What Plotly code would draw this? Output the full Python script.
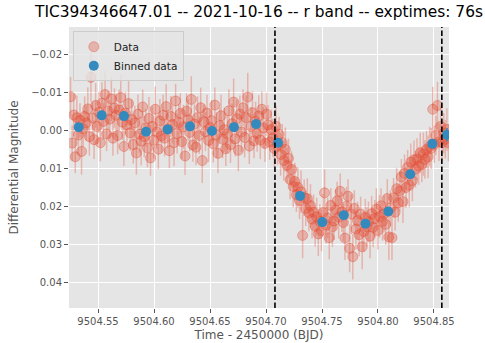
import plotly.graph_objects as go

# ---------------- data ----------------
t_base = 9504.5
t_offset = [
    0.0255, 0.0269, 0.0283, 0.0297, 0.0311, 0.0325, 0.0339, 0.0353, 0.0367, 0.0381,
    0.0395, 0.0409, 0.0423, 0.0437, 0.0451, 0.0465, 0.0479, 0.0493, 0.0507, 0.0521,
    0.0535, 0.0549, 0.0563, 0.0577, 0.0591, 0.0605, 0.0619, 0.0633, 0.0647, 0.0661,
    0.0675, 0.0689, 0.0703, 0.0717, 0.0731, 0.0745, 0.0759, 0.0773, 0.0787, 0.0801,
    0.0815, 0.0829, 0.0843, 0.0857, 0.0871, 0.0885, 0.0899, 0.0913, 0.0927, 0.0941,
    0.0955, 0.0969, 0.0983, 0.0997, 0.1011, 0.1025, 0.1039, 0.1053, 0.1067, 0.1081,
    0.1095, 0.1109, 0.1123, 0.1137, 0.1151, 0.1165, 0.1179, 0.1193, 0.1207, 0.1221,
    0.1235, 0.1249, 0.1263, 0.1277, 0.1291, 0.1305, 0.1319, 0.1333, 0.1347, 0.1361,
    0.1375, 0.1389, 0.1403, 0.1417, 0.1431, 0.1445, 0.1459, 0.1473, 0.1487, 0.1501,
    0.1515, 0.1529, 0.1543, 0.1557, 0.1571, 0.1585, 0.1599, 0.1613, 0.1627, 0.1641,
    0.1655, 0.1669, 0.1683, 0.1697, 0.1711, 0.1725, 0.1739, 0.1753, 0.1767, 0.1781,
    0.1795, 0.1809, 0.1823, 0.1837, 0.1851, 0.1865, 0.1879, 0.1893, 0.1907, 0.1921,
    0.1935, 0.1949, 0.1963, 0.1977, 0.1991, 0.2005, 0.2019, 0.2033, 0.2047, 0.2061,
    0.2075, 0.2089, 0.2103, 0.2117, 0.2131, 0.2145, 0.2159, 0.2173, 0.2187, 0.2201,
    0.2215, 0.2229, 0.2243, 0.2257, 0.2271, 0.2285, 0.2299, 0.2313, 0.2327, 0.2341,
    0.2355, 0.2369, 0.2383, 0.2397, 0.2411, 0.2425, 0.2439, 0.2453, 0.2467, 0.2481,
    0.2495, 0.2509, 0.2523, 0.2537, 0.2551, 0.2565, 0.2579, 0.2593, 0.2607, 0.2621,
    0.2635, 0.2649, 0.2663, 0.2677, 0.2691, 0.2705, 0.2719, 0.2733, 0.2747, 0.2761,
    0.2775, 0.2789, 0.2803, 0.2817, 0.2831, 0.2845, 0.2859, 0.2873, 0.2887, 0.2901,
    0.2915, 0.2929, 0.2943, 0.2957, 0.2971, 0.2985, 0.2999, 0.3013, 0.3027, 0.3041,
    0.3055, 0.3069, 0.3083, 0.3097, 0.3111, 0.3125, 0.3139, 0.3153, 0.3167, 0.3181,
    0.3195, 0.3209, 0.3223, 0.3237, 0.3251, 0.3265, 0.3279, 0.3293, 0.3307, 0.3321,
    0.3335, 0.3349, 0.3363, 0.3377, 0.3391, 0.3405, 0.3419, 0.3433, 0.3447, 0.3461,
    0.3475, 0.3489, 0.3503, 0.3517, 0.3531, 0.3545, 0.3559, 0.3573, 0.3587, 0.3601,
    0.3615, 0.3629,
]
mag = [
    -0.0090, 0.0032, -0.0042, 0.0068, -0.0035, 0.0011, -0.0028, 0.0054, -0.0006, -0.0038,
    -0.0021, -0.0058, 0.0015, -0.0141, -0.0034, 0.0023, -0.0067, -0.0012, -0.0049, 0.0031,
    -0.0073, -0.0025, -0.0096, 0.0008, -0.0052, -0.0031, -0.0084, 0.0019, -0.0060, -0.0041,
    0.0012, -0.0055, -0.0088, -0.0023, 0.0041, -0.0047, -0.0016, -0.0072, 0.0005, -0.0030,
    0.0036, -0.0021, 0.0058, -0.0044, 0.0009, 0.0027, -0.0063, 0.0015, -0.0008, 0.0045,
    -0.0033, 0.0071, -0.0012, 0.0024, -0.0057, 0.0003, 0.0048, -0.0026, 0.0013, -0.0041,
    0.0019, -0.0064, -0.0005, 0.0052, -0.0038, -0.0017, 0.0031, -0.0079, 0.0007, -0.0022,
    -0.0046, 0.0028, -0.0011, 0.0066, -0.0052, -0.0029, 0.0004, -0.0083, 0.0037, -0.0018,
    0.0043, -0.0035, 0.0012, -0.0061, 0.0078, -0.0024, 0.0002, -0.0047, 0.0025, -0.0009,
    -0.0027, 0.0034, -0.0068, 0.0011, 0.0059, -0.0014, -0.0040, 0.0022, -0.0003, 0.0047,
    0.0008, -0.0053, 0.0036, -0.0019, -0.0076, 0.0021, -0.0032, 0.0051, -0.0044, 0.0003,
    -0.0061, 0.0017, -0.0035, -0.0089, 0.0040, -0.0012, -0.0048, 0.0026, -0.0025, 0.0007,
    -0.0039, 0.0024, -0.0057, -0.0008, 0.0033, -0.0044, -0.0016, 0.0029, -0.0003, 0.0018,
    0.0046, -0.0012, 0.0038, 0.0009, 0.0062, 0.0031, 0.0078, 0.0049, 0.0091, 0.0072,
    0.0128, 0.0101, 0.0146, 0.0133, 0.0168, 0.0149, 0.0183, 0.0160, 0.0275, 0.0176,
    0.0204, 0.0178, 0.0215, 0.0197, 0.0232, 0.0214, 0.0251, 0.0226, 0.0271, 0.0238,
    0.0262, 0.0215, 0.0163, 0.0248, 0.0229, 0.0281, 0.0196, 0.0253, 0.0237, 0.0208,
    0.0184, 0.0227, 0.0159, 0.0213, 0.0241, 0.0282, 0.0198, 0.0172, 0.0309, 0.0219,
    0.0331, 0.0204, 0.0258, 0.0236, 0.0273, 0.0219, 0.0305, 0.0265, 0.0228, 0.0252,
    0.0239, 0.0277, 0.0218, 0.0254, 0.0231, 0.0206, 0.0262, 0.0225, 0.0197, 0.0238,
    0.0218, 0.0246, 0.0178, 0.0279, 0.0203, 0.0281, 0.0176, 0.0214, 0.0152, 0.0189,
    0.0158, 0.0121, 0.0186, 0.0112, 0.0149, 0.0096, 0.0143, 0.0082, 0.0131, 0.0076,
    0.0101, 0.0074, 0.0092, 0.0058, 0.0088, 0.0061, 0.0075, 0.0049, 0.0068, 0.0041,
    0.0046, -0.0057, 0.0035, 0.0012, -0.0067, 0.0029, -0.0012, 0.0031, 0.0006, 0.0022,
    -0.0004, 0.0031,
]
mag_err = [
    0.0052, 0.0047, 0.0055, 0.0043, 0.0058, 0.0049, 0.0045, 0.0061, 0.0048, 0.0053,
    0.0046, 0.0057, 0.0050, 0.0064, 0.0044, 0.0051, 0.0059, 0.0047, 0.0054, 0.0049,
    0.0055, 0.0048, 0.0062, 0.0045, 0.0053, 0.0050, 0.0058, 0.0046, 0.0052, 0.0057,
    0.0049, 0.0054, 0.0060, 0.0047, 0.0051, 0.0056, 0.0044, 0.0059, 0.0048, 0.0053,
    0.0050, 0.0045, 0.0057, 0.0052, 0.0048, 0.0063, 0.0046, 0.0054, 0.0049, 0.0051,
    0.0056, 0.0047, 0.0053, 0.0049, 0.0060, 0.0044, 0.0052, 0.0058, 0.0046, 0.0055,
    0.0048, 0.0059, 0.0051, 0.0046, 0.0054, 0.0050, 0.0062, 0.0045, 0.0053, 0.0049,
    0.0053, 0.0046, 0.0058, 0.0050, 0.0047, 0.0055, 0.0049, 0.0061, 0.0044, 0.0052,
    0.0047, 0.0056, 0.0049, 0.0053, 0.0059, 0.0045, 0.0051, 0.0048, 0.0057, 0.0050,
    0.0054, 0.0049, 0.0046, 0.0060, 0.0052, 0.0047, 0.0055, 0.0050, 0.0058, 0.0045,
    0.0051, 0.0057, 0.0048, 0.0053, 0.0062, 0.0046, 0.0050, 0.0055, 0.0049, 0.0052,
    0.0049, 0.0053, 0.0058, 0.0064, 0.0047, 0.0051, 0.0056, 0.0045, 0.0052, 0.0048,
    0.0055, 0.0050, 0.0046, 0.0054, 0.0049, 0.0057, 0.0052, 0.0047, 0.0053, 0.0050,
    0.0048, 0.0054, 0.0051, 0.0046, 0.0056, 0.0049, 0.0053, 0.0058, 0.0047, 0.0052,
    0.0052, 0.0047, 0.0055, 0.0050, 0.0045, 0.0053, 0.0049, 0.0056, 0.0060, 0.0048,
    0.0046, 0.0053, 0.0049, 0.0057, 0.0051, 0.0047, 0.0054, 0.0050, 0.0058, 0.0045,
    0.0055, 0.0049, 0.0062, 0.0048, 0.0053, 0.0057, 0.0046, 0.0052, 0.0050, 0.0054,
    0.0050, 0.0056, 0.0047, 0.0053, 0.0049, 0.0058, 0.0051, 0.0045, 0.0063, 0.0052,
    0.0060, 0.0048, 0.0054, 0.0050, 0.0057, 0.0046, 0.0059, 0.0053, 0.0049, 0.0051,
    0.0053, 0.0058, 0.0047, 0.0052, 0.0049, 0.0055, 0.0050, 0.0056, 0.0046, 0.0051,
    0.0049, 0.0054, 0.0051, 0.0061, 0.0047, 0.0059, 0.0052, 0.0048, 0.0055, 0.0050,
    0.0052, 0.0047, 0.0056, 0.0050, 0.0053, 0.0046, 0.0058, 0.0049, 0.0054, 0.0051,
    0.0048, 0.0055, 0.0050, 0.0053, 0.0047, 0.0057, 0.0051, 0.0049, 0.0056, 0.0052,
    0.0054, 0.0059, 0.0049, 0.0052, 0.0062, 0.0050, 0.0055, 0.0047, 0.0053, 0.0051,
    0.0056, 0.0049,
]
bin_time = [9504.5328, 9504.5533, 9504.5732, 9504.5929, 9504.6122, 9504.6321,
            9504.6518, 9504.6714, 9504.6911, 9504.7107, 9504.7304, 9504.7503,
            9504.7694, 9504.7888, 9504.8092, 9504.8288, 9504.8485, 9504.8616]
bin_mag = [-0.0010, -0.0041, -0.0039, 0.0002, -0.0004, -0.0012, 0.0000, -0.0010,
           -0.0018, 0.0031, 0.0171, 0.0240, 0.0222, 0.0244, 0.0212, 0.0114,
           0.0034, 0.0010]
bin_err = [0.0010, 0.0011, 0.0011, 0.0010, 0.0010, 0.0011, 0.0010, 0.0010,
           0.0011, 0.0011, 0.0010, 0.0011, 0.0010, 0.0011, 0.0010, 0.0010,
           0.0011, 0.0018]
transit_marks = [9504.708, 9504.857]   # dashed vertical lines
x_limits = [9504.5241, 9504.8634]
y_limits = [0.0466, -0.02735]           # inverted magnitude axis

time = [t_base + v for v in t_offset]

RED = "rgba(226,74,51,0.32)"
RED_EDGE = "rgba(226,74,51,0.38)"
BLUE = "#348ABD"
FONT = "DejaVu Sans"

fig = go.Figure()
fig.add_trace(go.Scatter(
    x=time, y=mag, mode="markers", name="Data",
    marker=dict(size=10, color=RED, line=dict(color=RED_EDGE, width=1)),
    error_y=dict(type="data", array=mag_err, visible=True,
                 color=RED, thickness=1.5, width=0),
))
fig.add_trace(go.Scatter(
    x=bin_time, y=bin_mag, mode="markers", name="Binned data",
    marker=dict(size=10, color=BLUE),
    error_y=dict(type="data", array=bin_err, visible=True,
                 color=BLUE, thickness=1.5, width=0),
))
for xv in transit_marks:
    fig.add_vline(x=xv, line=dict(color="black", width=1.6, dash="5.5px,2.5px"))

axis_common = dict(
    showgrid=True, gridcolor="white", gridwidth=0.9,
    zeroline=False, showline=False,
    ticks="outside", ticklen=4, tickwidth=1, tickcolor="#555555",
    tickfont=dict(family=FONT, size=10, color="#555555"),
    automargin=False,
)
fig.update_xaxes(
    range=x_limits, tick0=9504.55, dtick=0.05, tickformat=".2f",
    title=dict(text="Time - 2450000 (BJD)", standoff=4,
               font=dict(family=FONT, size=12, color="#555555")),
    **axis_common,
)
fig.update_yaxes(
    range=y_limits, tick0=0, dtick=0.01, tickformat=".2f",
    title=dict(text="Differential Magnitude", standoff=10,
               font=dict(family=FONT, size=12, color="#555555")),
    **axis_common,
)
fig.update_layout(
    width=485, height=343,
    margin=dict(l=69, r=36, t=27, b=35),
    paper_bgcolor="white", plot_bgcolor="#E5E5E5",
    font=dict(family=FONT),
    title=dict(text="TIC394346647.01 -- 2021-10-16 -- r band -- exptimes: 76s",
               x=0.5, xref="paper", xanchor="center",
               y=1 - 12 / 343, yref="container", yanchor="middle",
               font=dict(family=FONT, size=15.4, color="black")),
    legend=dict(x=0.01, y=0.985, xanchor="left", yanchor="top",
                bgcolor="rgba(229,229,229,0.8)", bordercolor="#CCCCCC",
                borderwidth=1, font=dict(family=FONT, size=10.5, color="#222222"),
                itemwidth=30, tracegroupgap=0),
    showlegend=True,
)
# remove the browser's default 8px page margin so the figure sits at (0, 0)
fig.write_html("out.html",
               config={"displayModeBar": False},
               post_script="document.body.style.margin='0';")
